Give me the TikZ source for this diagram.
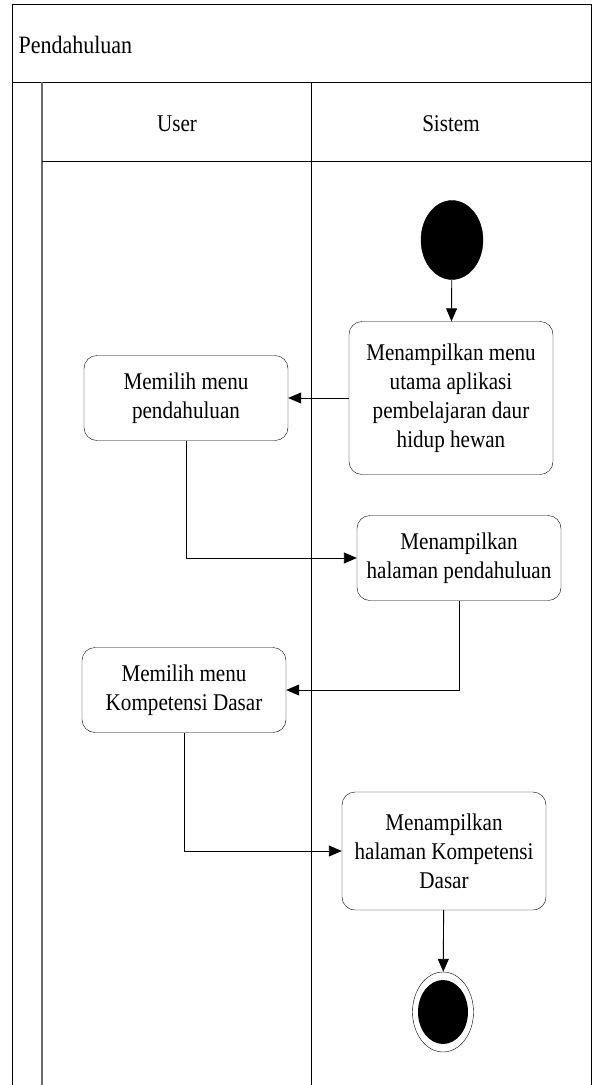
\documentclass[tikz,border=0pt]{standalone}
\usepackage{fontspec}
\setmainfont{Liberation Serif}[FakeStretch=0.88]
\usetikzlibrary{positioning,arrows.meta,shapes.geometric}
\definecolor{lanegray}{HTML}{6A6A6A}

\begin{document}
\begin{tikzpicture}[x=1pt, y=-1pt,
    act/.style={draw, rounded corners=13pt, align=center, minimum width=204pt,
      minimum height=85pt, inner sep=2pt, font=\fontsize{24}{29}\selectfont},
    flow/.style={-{Triangle[length=13pt, width=11pt]}, line width=0.9pt}]
  \useasboundingbox (0,0) rectangle (592,1085);
  % frame and lanes
  \draw[line width=1pt] (12,1085) -- (12,4) -- (591,4) -- (591,1085);
  \draw[line width=1pt] (12,82) -- (591,82);
  \draw[lanegray, line width=1.4pt] (42,82) -- (42,1085);
  \draw[line width=0.8pt] (42,161) -- (591,161);
  \draw[line width=0.8pt] (311,82) -- (311,1085);
  \node[anchor=west, font=\fontsize{25}{29}\selectfont] (title) at (15,45) {Pendahuluan};
  \node[font=\fontsize{24}{29}\selectfont] (user) at (177,124) {User};
  \node[font=\fontsize{24}{29}\selectfont] (sistem) at (451,124) {Sistem};
  % activities
  \node[fill=black, ellipse, minimum width=62pt, minimum height=79pt, inner sep=0pt,
    draw] (start) at (452,240) {};
  \node[act, minimum height=153pt] (menu) at (451,398)
    {Menampilkan menu\\utama aplikasi\\pembelajaran daur\\hidup hewan};
  \node[act] (pilih1) at (186,398) {Memilih menu\\pendahuluan};
  \node[act] (hal1) at (459,558) {Menampilkan\\halaman pendahuluan};
  \node[act] (pilih2) at (184,690) {Memilih menu\\Kompetensi Dasar};
  \node[act, minimum height=118pt] (hal2) at (444,851)
    {Menampilkan\\halaman Kompetensi\\Dasar};
  \node[draw, ellipse, minimum width=61pt, minimum height=80pt, inner sep=0pt] (end) at (443,1012) {};
  \node[fill=black, ellipse, minimum width=50pt, minimum height=64pt, inner sep=0pt] (endin) at (end) {};
  % flows
  \draw[flow] (start) -- (menu);
  \draw[flow] (menu) -- (pilih1);
  \draw[flow] (pilih1.south) |- (hal1.west);
  \draw[flow] (hal1.south) |- (pilih2.east);
  \draw[flow] (pilih2.south) |- (hal2.west);
  \draw[flow] (hal2) -- (end);
\end{tikzpicture}
\end{document}
